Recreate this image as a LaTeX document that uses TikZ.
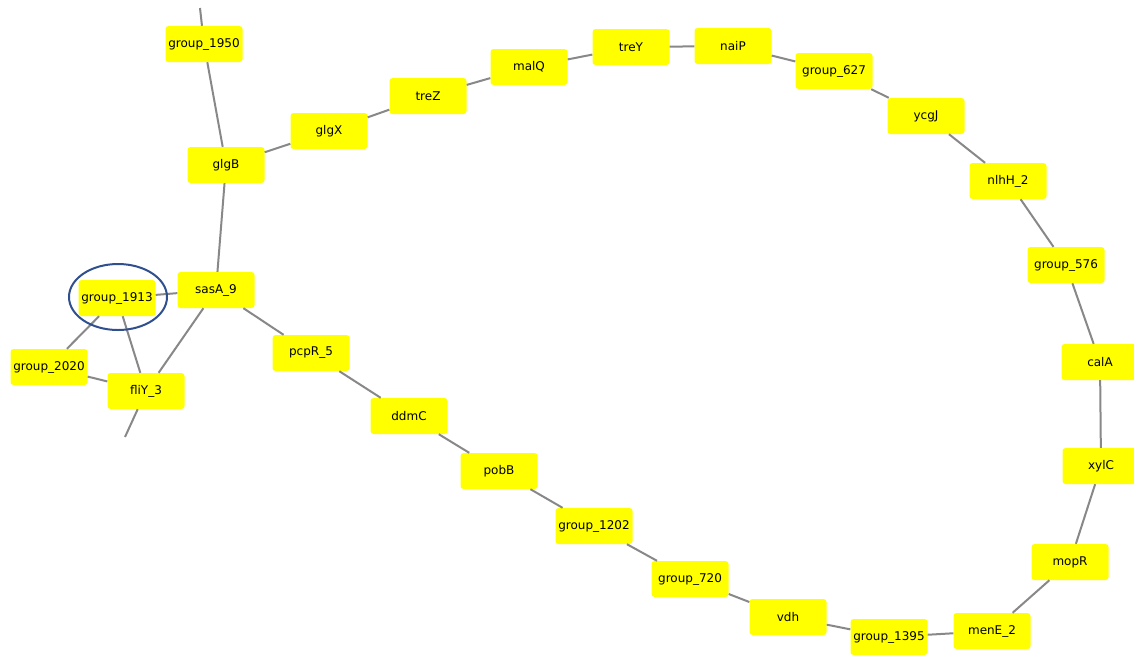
\documentclass[tikz,border=0pt]{standalone}
\usepackage{fontspec}
\setmainfont{DejaVu Sans}
\usetikzlibrary{shapes.geometric}
\definecolor{nodeyellow}{HTML}{FFFF00}
\definecolor{edgegray}{HTML}{888888}
\definecolor{ringblue}{HTML}{2F4F8F}
\begin{document}
\begin{tikzpicture}[x=1pt,y=-1pt,
  gene/.style={fill=nodeyellow,draw=none,rounded corners=3pt,minimum width=77pt,minimum height=36pt,inner sep=0pt,font=\fontsize{12}{14}\selectfont},
  link/.style={draw=edgegray,line width=2pt},
  ring/.style={draw=ringblue,line width=2pt,ellipse,minimum width=98pt,minimum height=66pt}]
\useasboundingbox (0,0) rectangle (1134,657);
\coordinate (topend) at (200,8);
\coordinate (botend) at (125,437);
\node[gene] (g1950) at (204,44) {group\_1950};
\node[gene] (glgB) at (226,165) {glgB};
\node[gene] (glgX) at (329,131) {glgX};
\node[gene] (treZ) at (428,96) {treZ};
\node[gene] (malQ) at (529,67) {malQ};
\node[gene] (treY) at (631,47) {treY};
\node[gene] (naiP) at (733,46) {naiP};
\node[gene] (g627) at (834,71) {group\_627};
\node[gene] (ycgJ) at (926,116) {ycgJ};
\node[gene] (nlhH) at (1008,181) {nlhH\_2};
\node[gene] (g576) at (1066,265) {group\_576};
\node[gene] (calA) at (1100,362) {calA};
\node[gene] (xylC) at (1101,466) {xylC};
\node[gene] (mopR) at (1070,562) {mopR};
\node[gene] (menE) at (992,631) {menE\_2};
\node[gene] (g1395) at (889,637) {group\_1395};
\node[gene] (vdh) at (788,617) {vdh};
\node[gene] (g720) at (690,579) {group\_720};
\node[gene] (g1202) at (594,526) {group\_1202};
\node[gene] (pobB) at (499,471) {pobB};
\node[gene] (ddmC) at (409,416) {ddmC};
\node[gene] (pcpR) at (311,353) {pcpR\_5};
\node[gene] (sasA) at (216,290) {sasA\_9};
\node[gene] (g1913) at (117,298) {group\_1913};
\node[gene] (g2020) at (49,367) {group\_2020};
\node[gene] (fliY) at (146,391) {fliY\_3};
\foreach \a/\b in {g1950/topend,g1950/glgB,glgB/glgX,glgX/treZ,treZ/malQ,malQ/treY,treY/naiP,naiP/g627,g627/ycgJ,ycgJ/nlhH,nlhH/g576,g576/calA,calA/xylC,xylC/mopR,mopR/menE,menE/g1395,g1395/vdh,vdh/g720,g720/g1202,g1202/pobB,pobB/ddmC,ddmC/pcpR,pcpR/sasA,sasA/glgB,sasA/g1913,sasA/fliY,g1913/g2020,g1913/fliY,g2020/fliY,fliY/botend}
  \draw[link] (\a) -- (\b);
\node[ring] (circ) at (118,297) {};
\end{tikzpicture}
\end{document}
